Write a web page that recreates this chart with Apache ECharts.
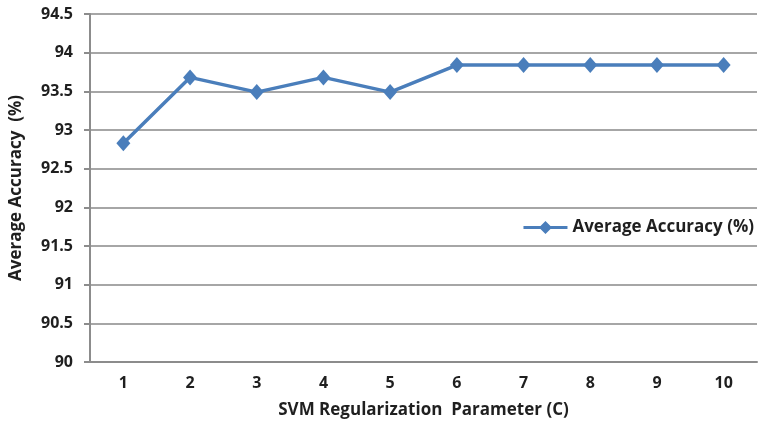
<!DOCTYPE html>
<html>
<head>
<meta charset="utf-8">
<script src="https://cdn.jsdelivr.net/npm/echarts@6/dist/echarts.min.js"></script>
<style>
  html, body { margin: 0; padding: 0; background: #fff; }
  #chart { width: 759px; height: 428px; }
</style>
</head>
<body>
<div id="chart"></div>
<script>
// SVM regularization parameter values (C)
const categories = ['1', '2', '3', '4', '5', '6', '7', '8', '9', '10'];
// Average accuracy (%) for each C
const accuracy = [92.83, 93.68, 93.49, 93.68, 93.49, 93.84, 93.84, 93.84, 93.84, 93.84];
const seriesName = 'Average Accuracy (%)';

const FONT = '"Open Sans", "Liberation Sans", sans-serif';
const TEXT_COLOR = '#1f1f1f';
const LINE_COLOR = '#4a7ebb';
const AXIS_COLOR = '#8c8c8c';

const labelStyle = { fontFamily: FONT, fontSize: 16, fontWeight: 'bold', color: TEXT_COLOR };
const titleStyle = { fontFamily: FONT, fontSize: 17, fontWeight: 'bold', color: TEXT_COLOR };

const chart = echarts.init(document.getElementById('chart'), null, { renderer: 'canvas' });
chart.setOption({
  animation: false,
  backgroundColor: '#ffffff',
  grid: { left: 90, right: 2, top: 14, bottom: 66, containLabel: false, outerBoundsMode: 'none' },
  legend: {
    data: [{
      name: seriesName,
      // line sample with a diamond marker in its middle
      icon: 'path://M0,5 L17,5 L22,0 L27,5 L44,5 L44,8 L27,8 L22,13 L17,8 L0,8 Z'
    }],
    right: 0,
    top: 214,
    itemWidth: 44,
    itemHeight: 13,
    itemGap: 3,
    textStyle: titleStyle
  },
  xAxis: {
    type: 'category',
    data: categories,
    boundaryGap: true,
    name: 'SVM Regularization  Parameter (C)',
    nameLocation: 'middle',
    nameGap: 40,
    nameTextStyle: titleStyle,
    axisLine: { lineStyle: { color: AXIS_COLOR, width: 2 } },
    axisTick: { show: false },
    axisLabel: Object.assign({ margin: 13 }, labelStyle)
  },
  yAxis: {
    type: 'value',
    min: 90,
    max: 94.5,
    interval: 0.5,
    name: 'Average Accuracy  (%)',
    nameLocation: 'middle',
    nameGap: 65,
    nameRotate: 90,
    nameTextStyle: titleStyle,
    axisLine: { show: true, lineStyle: { color: AXIS_COLOR, width: 2 } },
    axisTick: { show: true, length: 6, lineStyle: { color: AXIS_COLOR, width: 2 } },
    axisLabel: Object.assign({ margin: 17 }, labelStyle),
    splitLine: { lineStyle: { color: '#a6a6a6', width: 2 } }
  },
  series: [{
    name: seriesName,
    type: 'line',
    data: accuracy,
    symbol: 'diamond',
    symbolSize: [14, 16],
    lineStyle: { color: LINE_COLOR, width: 3.5 },
    itemStyle: { color: LINE_COLOR },
    z: 5
  }]
});
</script>
</body>
</html>
